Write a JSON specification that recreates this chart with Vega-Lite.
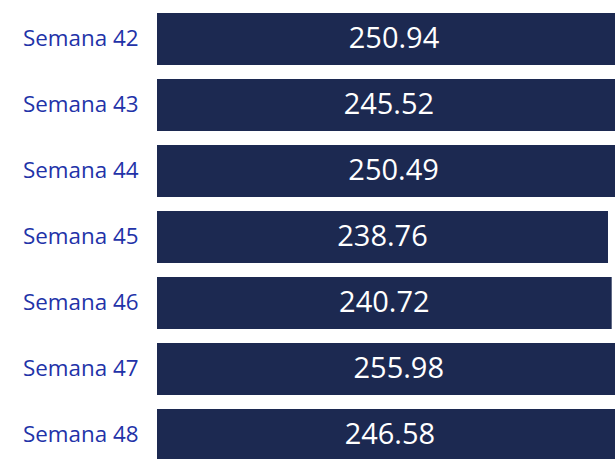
{
  "$schema": "https://vega.github.io/schema/vega-lite/v6.json",
  "autosize": {"type": "none"},
  "padding": {"left": 157, "top": 0, "right": 0, "bottom": 0},
  "width": 500,
  "height": {"step": 66},
  "background": "white",
  "data": {"values": [
    {"semana": "Semana 42", "valor": 250.94},
    {"semana": "Semana 43", "valor": 245.52},
    {"semana": "Semana 44", "valor": 250.49},
    {"semana": "Semana 45", "valor": 238.76},
    {"semana": "Semana 46", "valor": 240.72},
    {"semana": "Semana 47", "valor": 255.98},
    {"semana": "Semana 48", "valor": 246.58}
  ]},
  "encoding": {
    "y": {"field": "semana", "type": "nominal", "sort": null,
      "scale": {"paddingInner": 0.212, "paddingOuter": 0.197},
      "axis": {"title": null, "domain": false, "ticks": false, "labelPadding": 19,
        "labelFont": "Open Sans", "labelFontSize": 22.4, "labelColor": "#2232A8"}}
  },
  "layer": [
    {"mark": {"type": "bar", "color": "#1C2951"},
     "encoding": {"x": {"field": "valor", "type": "quantitative", "scale": {"domain": [0, 264.7], "nice": false}, "axis": null}}},
    {"mark": {"type": "text", "color": "white", "font": "Open Sans", "fontSize": 29, "align": "center", "baseline": "middle"},
     "encoding": {"x": {"field": "valor", "type": "quantitative", "scale": {"domain": [0, 529.4], "nice": false}, "axis": null}, "text": {"field": "valor", "type": "quantitative", "format": ".2f"}}}
  ],
  "resolve": {"scale": {"x": "independent"}},
  "config": {"view": {"stroke": null}}
}
